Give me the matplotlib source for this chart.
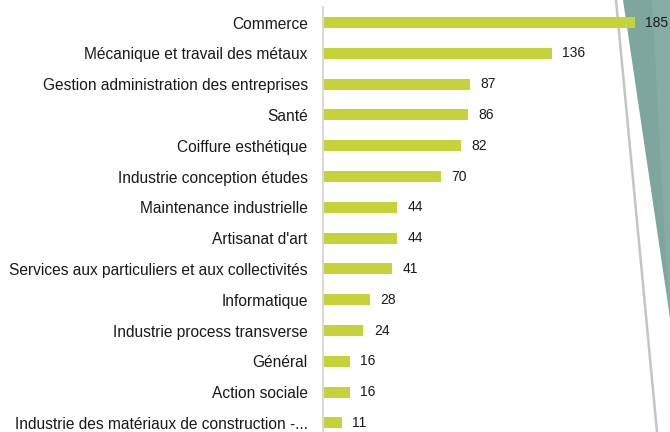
import matplotlib
matplotlib.use('Agg')
import matplotlib.pyplot as plt
from matplotlib.patches import Polygon
from matplotlib.lines import Line2D

# data
categories = ['Commerce', 'Mécanique et travail des métaux',
              'Gestion administration des entreprises', 'Santé',
              'Coiffure esthétique', 'Industrie conception études',
              'Maintenance industrielle', "Artisanat d'art",
              'Services aux particuliers et aux collectivités',
              'Informatique', 'Industrie process transverse', 'Général',
              'Action sociale', 'Industrie des matériaux de construction -...']
values = [185, 136, 87, 86, 82, 70, 44, 44, 41, 28, 24, 16, 16, 11]

W, H = 670, 432
fig = plt.figure(figsize=(W / 100, H / 100), dpi=100)

# decorative shapes on the right (pixel coords -> figure fraction)
def px(x, y):
    return (x / W, 1 - y / H)

teal = Polygon([px(623, 0), px(670, 0), px(670, 318)], closed=True,
               transform=fig.transFigure, facecolor='#7ea69e', edgecolor='none', zorder=0)
teal2 = Polygon([px(652, 0), px(670, 0), px(670, 318), px(668, 300)], closed=True,
                transform=fig.transFigure, facecolor='#86aca5', edgecolor='none', zorder=0)
fig.patches.extend([teal, teal2])
fig.lines.append(Line2D([616 / W, 657 / W], [1, 0], transform=fig.transFigure,
                        color='#c4c4c4', lw=1.8, zorder=0))

# axes: bar rows are ~30.8 px apart, first centre at y=22.5
left, right = 323, 660
step, first = 30.8, 22.5
top, bottom = first - step / 2, first + step * 13.5
ax = fig.add_axes([left / W, 1 - bottom / H, (right - left) / W, (bottom - top) / H])
ax.set_zorder(2)
ax.patch.set_alpha(0)

ypos = list(range(len(categories)))
ax.barh(ypos, values, height=0.36, color='#c5d23a', zorder=2)
ax.set_ylim(len(categories) - 0.5, -0.5)
ax.set_xlim(0, (right - left) / 1.684)

for y, v in zip(ypos, values):
    ax.annotate(str(v), (v, y), xytext=(7.5, 0), textcoords='offset points',
                va='center', ha='left', fontsize=10, color='#1a1a1a',
                family='Liberation Sans', annotation_clip=False)

ax.set_yticks(ypos)
ax.set_yticklabels(categories, fontsize=11.2, color='#1a1a1a', family='Liberation Sans')
ax.tick_params(axis='y', length=0, pad=11)
ax.set_xticks([])
for s in ['top', 'right', 'bottom']:
    ax.spines[s].set_visible(False)
ax.spines['left'].set_color('#d9d9d9')
ax.spines['left'].set_linewidth(1.5)

fig.savefig('out.png', dpi=100)
